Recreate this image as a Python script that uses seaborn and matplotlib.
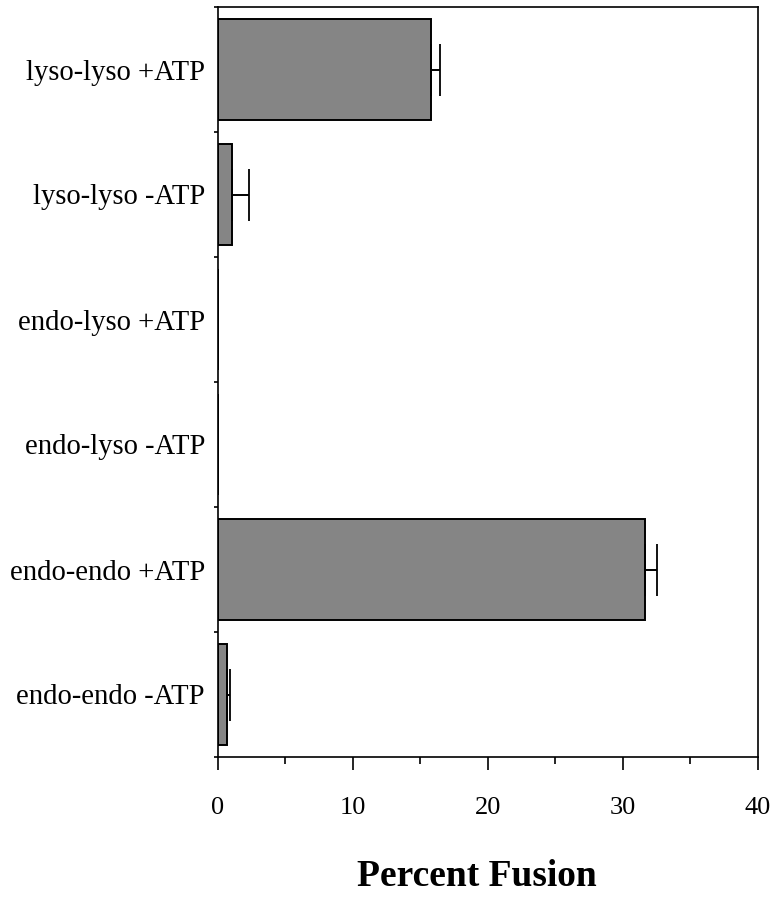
import matplotlib
matplotlib.use("Agg")
import matplotlib.pyplot as plt
import seaborn as sns
import numpy as np
import pandas as pd
from matplotlib.ticker import FixedLocator, MultipleLocator

categories = ["lyso-lyso +ATP", "lyso-lyso -ATP", "endo-lyso +ATP",
              "endo-lyso -ATP", "endo-endo +ATP", "endo-endo -ATP"]
fusion = [15.8, 1.1, 0.0, 0.0, 31.65, 0.7]
err_upper = [0.65, 1.2, 0.0, 0.0, 0.85, 0.25]
x_ticks = [0, 10, 20, 30, 40]

sns.set_theme(style="white")
plt.rcParams["font.family"] = ["Liberation Serif", "DejaVu Serif"]

df = pd.DataFrame({"cat": categories, "val": fusion})

fig = plt.figure(figsize=(7.79, 9.0), dpi=100)
ax = fig.add_axes([217.5 / 779, 1 - 757 / 900, (758 - 217.5) / 779, (757 - 7) / 900])

sns.barplot(data=df, x="val", y="cat", orient="h", ax=ax, color="#858585",
            saturation=1, width=0.815, edgecolor="black", linewidth=1.4,
            errorbar=None)

pos = np.arange(len(categories))
has = np.array(err_upper) > 0
ax.errorbar(np.array(fusion)[has], pos[has],
            xerr=[np.zeros(has.sum()), np.array(err_upper)[has]],
            fmt="none", ecolor="black", elinewidth=1.4, capsize=18.5,
            capthick=1.3)

ax.set_xlim(0, 40)
ax.set_ylim(len(categories) - 0.5, -0.5)
ax.set_xticks(x_ticks)
ax.set_xticklabels([str(t) for t in x_ticks])
ax.xaxis.set_minor_locator(MultipleLocator(5))
ax.yaxis.set_minor_locator(FixedLocator(np.arange(len(categories) + 1) - 0.5))

for s in ax.spines.values():
    s.set_visible(True)
    s.set_color("black")
    s.set_linewidth(1.2)

ax.tick_params(axis="x", which="major", direction="out", length=9.5, width=1.2,
               colors="black", labelsize=19, pad=19, bottom=True)
ax.tick_params(axis="x", which="minor", direction="out", length=5, width=1.2,
               colors="black", bottom=True)
ax.tick_params(axis="y", which="major", length=0, labelsize=20.6, pad=9,
               labelcolor="black")
ax.tick_params(axis="y", which="minor", direction="out", length=3, width=1.2,
               colors="black", left=True)

ax.set_ylabel("")
ax.set_xlabel("Percent Fusion", fontsize=27, fontweight="bold", color="black")
ax.xaxis.label.set_va("center")
ax.xaxis.set_label_coords(0.48, -(877 - 757) / 750, transform=ax.transAxes)

fig.savefig("out.png", dpi=100)
